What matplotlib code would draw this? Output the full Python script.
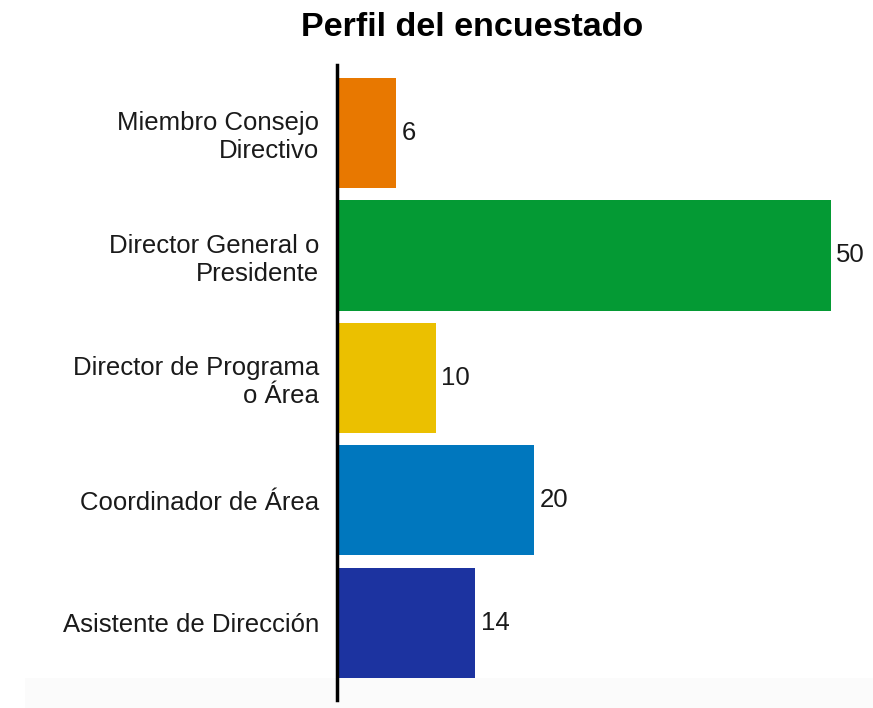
import matplotlib.pyplot as plt
from matplotlib.patches import Rectangle

# Survey respondent profile
categories = ['Miembro Consejo\nDirectivo', 'Director General o\nPresidente',
              'Director de Programa\no Área', 'Coordinador de Área',
              'Asistente de Dirección']
counts = [6, 50, 10, 20, 14]
colors = ['#E87800', '#049A34', '#EBC000', '#0077BE', '#1C33A0']

plt.rcParams['font.family'] = ['Liberation Sans', 'DejaVu Sans']

fig = plt.figure(figsize=(8.73, 7.08), dpi=100)
# faint grey band at the bottom of the image
fig.patches.append(Rectangle((25 / 873, 0), 1, 30 / 708, transform=fig.transFigure,
                             facecolor='#fbfbfb', edgecolor='none', zorder=-1))

ax = fig.add_axes([337 / 873, 8 / 708, 1 - 337 / 873, 635 / 708])
ax.patch.set_alpha(0)

pos = list(range(len(categories)))
ax.barh(pos, counts, height=0.9, color=colors)

for y, v in zip(pos, counts):
    ax.text(v + 0.55, y, str(v), va='center', ha='left', fontsize=18.5, color='#1a1a1a')

ax.set_yticks(pos)
ax.set_yticklabels(categories, fontsize=18.5, color='#1a1a1a', ha='right',
                   multialignment='right', linespacing=1.2)
ax.tick_params(axis='y', length=0, pad=13)
ax.set_xticks([])
ax.set_xlim(0, 54.3)
ax.set_ylim(4.63, -0.555)

for s in ['top', 'right', 'bottom']:
    ax.spines[s].set_visible(False)
ax.spines['left'].set_linewidth(2.5)
ax.spines['left'].set_color('black')

fig.text(472 / 873, 1 - 28 / 708, 'Perfil del encuestado', ha='center', va='center',
         fontsize=24.5, fontweight='bold', color='black')

plt.savefig('out.png', dpi=100)
